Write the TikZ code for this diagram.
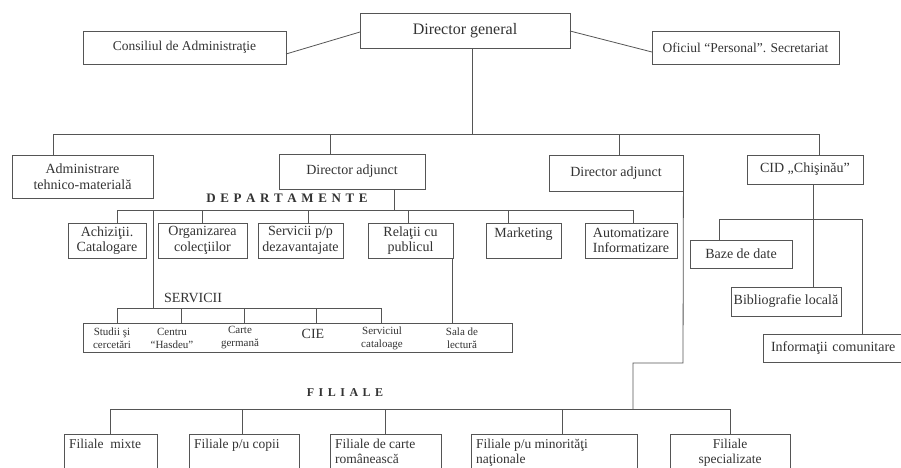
\documentclass[tikz,border=0pt]{standalone}
\usepackage{fontspec}
\setmainfont{Liberation Serif}
\definecolor{linec}{HTML}{555555}
\definecolor{txt}{HTML}{333333}
\begin{document}
\begin{tikzpicture}[x=1pt,y=-1pt,
  conn/.style={draw=linec,line width=0.8pt},
  box/.style={draw=linec,line width=0.8pt,inner sep=0pt,align=center,text=txt,font=\fontsize{14}{15.5}\selectfont},
  dbox/.style={box,minimum height=35},
  fbox/.style={draw=linec,line width=0.8pt,inner sep=0pt,minimum height=60},
  ftext/.style={text=txt,font=\fontsize{13.5}{14.5}\selectfont,align=left,anchor=north west,inner sep=0pt},
  stext/.style={text=txt,font=\fontsize{11}{13}\selectfont,align=center,inner sep=0pt},
  ttl/.style={text=txt,inner sep=0pt}]
\useasboundingbox (0,0) rectangle (901,467);
\clip (0,0) rectangle (901,467);
\fill[white] (0,0) rectangle (901,467);

% top level
\node[box,minimum width=210,minimum height=35,font=\fontsize{16}{18}\selectfont] (dg) at (465,30.5) {Director general};
\node[box,minimum width=203,minimum height=33,font=\fontsize{13.5}{15}\selectfont] (cons) at (184.5,47.5) {Consiliul de Administraţie};
\node[box,minimum width=187,minimum height=33,font=\fontsize{13.5}{15}\selectfont] (ofic) at (745.5,47.5) {Oficiul “Personal”. Secretariat};

\coordinate (c1) at (286,54);
\coordinate (c2) at (360,32);
\coordinate (o1) at (570,31);
\coordinate (o2) at (652,52);
\draw[conn] (c1) -- (c2);
\draw[conn] (o1) -- (o2);

% second level
\node[box,minimum width=141,minimum height=43] (adm) at (82.5,176.5) {Administrare\\tehnico-materială};
\node[box,minimum width=146,minimum height=35] (da1) at (352,171.5) {Director adjunct};
\node[box,minimum width=134,minimum height=36] (da2) at (616,173) {Director adjunct};
\node[box,minimum width=116,minimum height=29] (cid) at (805,169.5) {CID „Chişinău”};

\coordinate (dgx) at (472,134);
\coordinate (bL) at (53,134);
\coordinate (bR) at (819,134);
\coordinate (bA) at (330,134);
\coordinate (bB) at (619,134);
\draw[conn] (dg.south -| dgx) -- (dgx);
\draw[conn] (adm.north -| bL) -- (bL) -- (bR) -- (cid.north -| bR);
\draw[conn] (bA) -- (da1.north -| bA);
\draw[conn] (bB) -- (da2.north -| bB);

% departamente
\node[ttl,font=\fontsize{13}{15}\selectfont\bfseries] (deplbl) at (287,198) {D\kern4.6pt E\kern4.6pt P\kern4.6pt A\kern4.6pt R\kern4.6pt T\kern4.6pt A\kern4.6pt M\kern4.6pt E\kern4.6pt N\kern4.6pt T\kern4.6pt E};

\node[dbox,minimum width=78] (ach) at (107,240.5) {Achiziţii.\\Catalogare};
\node[dbox,minimum width=89] (org) at (202.5,240.5) {Organizarea\\colecţiilor};
\node[dbox,minimum width=85] (spp) at (300.5,240.5) {Servicii p/p\\dezavantajate};
\node[dbox,minimum width=85] (rel) at (410.5,240.5) {Relaţii cu\\publicul};
\node[dbox,minimum width=75] (mkt) at (523.5,240.5) {Marketing\\\phantom{X}};
\node[dbox,minimum width=92] (aut) at (631,240.5) {Automatizare\\Informatizare};

\coordinate (da1x) at (394,210);
\coordinate (d1) at (117,210);
\coordinate (d2) at (202,210);
\coordinate (d3) at (308,210);
\coordinate (d4) at (408,210);
\coordinate (d5) at (508,210);
\coordinate (d6) at (633,210);
\coordinate (dsv) at (153,210);
\draw[conn] (da1.south -| da1x) -- (da1x);
\draw[conn] (ach.north -| d1) -- (d1) -- (d6) -- (aut.north -| d6);
\draw[conn] (d2) -- (org.north -| d2);
\draw[conn] (d3) -- (spp.north -| d3);
\draw[conn] (d4) -- (rel.north -| d4);
\draw[conn] (d5) -- (mkt.north -| d5);

% servicii
\node[ttl,font=\fontsize{14}{16}\selectfont] (svlbl) at (193,298) {SERVICII};
\node[draw=linec,line width=0.8pt,inner sep=0pt,minimum width=429,minimum height=29] (sbox) at (297.5,337.5) {};
\node[stext] (s1) at (112,338) {Studii şi\\cercetări};
\node[stext] (s2) at (172,338) {Centru\\“Hasdeu”};
\node[stext] (s3) at (240,338) {Carte\\germană};
\node[stext,font=\fontsize{14}{16}\selectfont] (s4) at (313,334) {CIE};
\node[stext] (s5) at (382,338) {Serviciul\\cataloage};
\node[stext] (s6) at (462,338) {Sala de\\lectură};

\coordinate (sv0) at (153,308);
\coordinate (e1) at (117,308);
\coordinate (e2) at (181,308);
\coordinate (e3) at (244,308);
\coordinate (e4) at (316,308);
\coordinate (e5) at (381,308);
\coordinate (relx) at (452,300);
\draw[conn] (dsv) -- (sv0);
\draw[conn] (sbox.north -| e1) -- (e1) -- (e5) -- (sbox.north -| e5);
\draw[conn] (e2) -- (sbox.north -| e2);
\draw[conn] (e3) -- (sbox.north -| e3);
\draw[conn] (e4) -- (sbox.north -| e4);
\draw[conn] (rel.south -| relx) -- (sbox.north -| relx);

% CID subtree
\node[box,minimum width=102,minimum height=28] (baze) at (741,254) {Baze de date};
\node[box,minimum width=110,minimum height=29] (bib) at (786,301.5) {Bibliografie locală};
\node[box,minimum width=142,minimum height=28,text width=142,align=left] (info) at (834,348) {\hspace*{8pt}Informaţii comunitare};
\coordinate (cidx) at (813,219);
\coordinate (cL) at (719,219);
\coordinate (cR) at (862,219);
\draw[conn] (cid.south -| cidx) -- (bib.north -| cidx);
\draw[conn] (baze.north -| cL) -- (cL) -- (cR) -- (info.north -| cR);

% filiale
\node[ttl,font=\fontsize{12}{14}\selectfont\bfseries] (fillbl) at (345,393) {F\kern4.5pt I\kern4.5pt L\kern4.5pt I\kern4.5pt A\kern4.5pt L\kern4.5pt E};

\node[fbox,minimum width=93,anchor=north west] (fm) at (64,434) {};
\node[fbox,minimum width=110,anchor=north west] (fc) at (189,434) {};
\node[fbox,minimum width=111,anchor=north west] (fr) at (330,434) {};
\node[fbox,minimum width=166,anchor=north west] (fn) at (471,434) {};
\node[fbox,minimum width=120,anchor=north west] (fs) at (670,434) {};

\node[ftext] (tm) at (69,439) {Filiale\ \ mixte};
\node[ftext] (tc) at (194,439) {Filiale p/u copii};
\node[ftext] (tr) at (335,439) {Filiale de carte\\românească};
\node[ftext] (tn) at (476,439) {Filiale p/u minorităţi\\naţionale};
\node[ftext,anchor=north,align=center] (ts) at (730,439) {Filiale\\specializate};

\coordinate (g1) at (683,363);
\coordinate (g2) at (633,363);
\coordinate (g3) at (633,409);
\coordinate (f1) at (110,409);
\coordinate (f2) at (242,409);
\coordinate (f3) at (385,409);
\coordinate (f4) at (562,409);
\coordinate (f5) at (730,409);
\draw[conn] (da2.south east) -- (g1) -- (g2) -- (g3);
\draw[conn] (fm.north -| f1) -- (f1) -- (f5) -- (fs.north -| f5);
\draw[conn] (f2) -- (fc.north -| f2);
\draw[conn] (f3) -- (fr.north -| f3);
\draw[conn] (f4) -- (fn.north -| f4);
\end{tikzpicture}
\end{document}
